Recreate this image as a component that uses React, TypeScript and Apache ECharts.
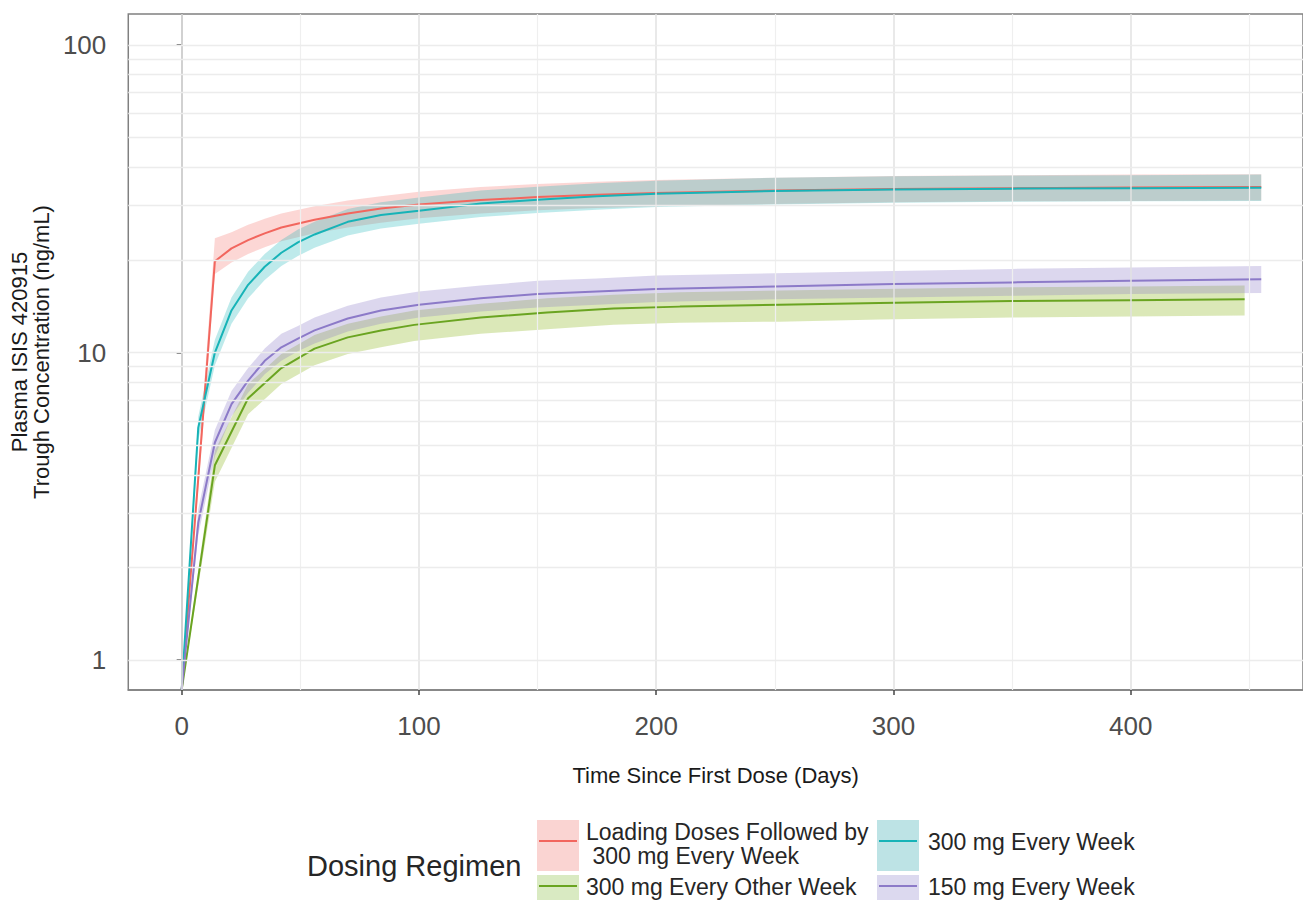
import React, { useEffect, useRef } from "react";
import * as echarts from "echarts";

// ---- Data ----
const DAYS_LOADING = [0, 7, 14, 21, 28, 35, 42, 56, 70, 84, 100, 126, 150, 175, 200, 250, 300, 350, 400, 455];
const CONC_LOADING = [0.8, 3.9, 19.8, 21.8, 23.2, 24.4, 25.5, 27.0, 28.3, 29.4, 30.3, 31.3, 32.0, 32.6, 33.0, 33.6, 34.0, 34.2, 34.4, 34.5];
const LO_LOADING = [0.8, 3.6, 18.0, 19.6, 20.9, 22.0, 23.0, 24.4, 25.5, 26.4, 27.3, 28.3, 29.0, 29.5, 29.9, 30.4, 30.8, 31.0, 31.1, 31.2];
const HI_LOADING = [0.8, 4.3, 23.5, 24.6, 26.0, 27.2, 28.3, 29.9, 31.2, 32.2, 33.3, 34.5, 35.3, 35.9, 36.4, 37.0, 37.5, 37.7, 37.9, 38.0];

const DAYS_WEEKLY300 = [0, 7, 14, 21, 28, 35, 42, 49, 56, 70, 84, 100, 126, 150, 175, 200, 250, 300, 350, 400, 455];
const CONC_WEEKLY300 = [0.8, 5.7, 10.0, 13.7, 16.6, 19.0, 21.1, 22.8, 24.2, 26.6, 28.0, 28.9, 30.5, 31.4, 32.2, 32.8, 33.5, 33.9, 34.1, 34.2, 34.3];
const LO_WEEKLY300 = [0.8, 5.2, 9.1, 12.4, 15.0, 17.2, 19.1, 20.6, 21.9, 24.0, 25.3, 26.2, 27.6, 28.4, 29.1, 29.7, 30.3, 30.7, 30.9, 31.0, 31.1];
const HI_WEEKLY300 = [0.8, 6.2, 11.0, 15.1, 18.3, 20.9, 23.2, 25.1, 26.6, 29.3, 30.8, 31.9, 33.6, 34.6, 35.5, 36.2, 37.0, 37.4, 37.6, 37.7, 37.9];

const DAYS_BIWEEKLY300 = [0, 14, 28, 42, 56, 70, 84, 98, 126, 154, 182, 210, 252, 294, 350, 400, 448];
const CONC_BIWEEKLY300 = [0.8, 4.3, 7.1, 8.9, 10.3, 11.2, 11.8, 12.3, 13.0, 13.5, 13.9, 14.1, 14.3, 14.5, 14.7, 14.8, 14.9];
const LO_BIWEEKLY300 = [0.8, 3.8, 6.3, 7.9, 9.1, 9.9, 10.4, 10.9, 11.5, 11.9, 12.3, 12.5, 12.6, 12.8, 13.0, 13.1, 13.2];
const HI_BIWEEKLY300 = [0.8, 4.8, 7.9, 9.9, 11.4, 12.4, 13.1, 13.7, 14.4, 15.0, 15.4, 15.7, 15.9, 16.1, 16.3, 16.4, 16.5];

const DAYS_WEEKLY150 = [0, 7, 14, 21, 28, 35, 42, 49, 56, 70, 84, 100, 126, 150, 175, 200, 250, 300, 350, 400, 455];
const CONC_WEEKLY150 = [0.8, 2.8, 5.1, 6.8, 8.1, 9.4, 10.4, 11.1, 11.8, 12.9, 13.7, 14.3, 15.0, 15.5, 15.8, 16.1, 16.4, 16.7, 16.9, 17.1, 17.3];
const LO_WEEKLY150 = [0.8, 2.55, 4.6, 6.2, 7.4, 8.5, 9.4, 10.1, 10.7, 11.7, 12.4, 13.0, 13.6, 14.0, 14.3, 14.6, 14.9, 15.1, 15.3, 15.5, 15.6];
const HI_WEEKLY150 = [0.8, 3.1, 5.6, 7.5, 8.9, 10.3, 11.5, 12.2, 13.0, 14.2, 15.1, 15.8, 16.5, 17.1, 17.4, 17.8, 18.1, 18.4, 18.7, 18.9, 19.1];

const X_TICKS = [0, 100, 200, 300, 400];
const X_GRID_MAJOR = [0, 100, 200, 300, 400];
const X_GRID_MINOR = [50, 150, 250, 350, 450];
const Y_GRID = [1, 2, 3, 4, 5, 6, 7, 8, 9, 10, 20, 30, 40, 50, 60, 70, 80, 90, 100];

const LEGEND_TITLE = "Dosing Regimen";
const LABEL_LOADING = ["Loading Doses Followed by", " 300 mg Every Week"];
const LABEL_WEEKLY300 = "300 mg Every Week";
const LABEL_BIWEEKLY300 = "300 mg Every Other Week";
const LABEL_WEEKLY150 = "150 mg Every Week";

const COL_RED = "#f2665e";
const COL_TEAL = "#17b3b7";
const COL_GREEN = "#6aa421";
const COL_PURPLE = "#8c7ac8";

const FONT = "'Liberation Sans', Arial, Helvetica, sans-serif";

function bandSeries(name: string, days: number[], lo: number[], hi: number[], fill: string) {
  return {
    type: "custom",
    name,
    z: 2,
    silent: true,
    clip: true,
    data: days.map((d, i) => [d, lo[i], hi[i]]),
    encode: { x: 0, y: [1, 2] },
    renderItem: (params: any, api: any) => {
      if (params.dataIndex !== 0) return null;
      const top = days.map((d, i) => api.coord([d, hi[i]]));
      const bottom = days.map((d, i) => api.coord([d, lo[i]])).reverse();
      return {
        type: "polygon",
        shape: { points: top.concat(bottom) },
        style: { fill, stroke: null },
      };
    },
  };
}

function lineSeries(name: string, days: number[], conc: number[], color: string) {
  return {
    type: "line",
    name,
    z: 4,
    silent: true,
    showSymbol: false,
    symbol: "none",
    clip: true,
    data: days.map((d, i) => [d, conc[i]]),
    lineStyle: { color, width: 2 },
    itemStyle: { color },
  };
}

export default function App() {
  const ref = useRef<HTMLDivElement>(null);

  useEffect(() => {
    if (!ref.current) return;
    const chart = echarts.init(ref.current, null, { renderer: "svg" });

    const gridMarks = [
      ...X_GRID_MINOR.map((v) => ({ xAxis: v, lineStyle: { color: "#efefef", width: 1.2, type: "solid" } })),
      ...X_GRID_MAJOR.map((v) => ({ xAxis: v, lineStyle: { color: "#e2e2e2", width: 1.5, type: "solid" } })),
      ...Y_GRID.map((v) => ({ yAxis: v, lineStyle: { color: "#ececec", width: 1.3, type: "solid" } })),
    ];

    const legendKeys = [
      { x: 537, y: 820, h: 51, ly: 841, fill: "#fad4d2", line: COL_RED },
      { x: 537, y: 875, h: 30, ly: 886, fill: "#d9eac2", line: COL_GREEN },
      { x: 877, y: 820, h: 51, ly: 841, fill: "#bde3e5", line: COL_TEAL },
      { x: 877, y: 875, h: 30, ly: 886, fill: "#dcd9ef", line: COL_PURPLE },
    ];

    const graphic: any[] = [];
    legendKeys.forEach((k) => {
      graphic.push({ type: "rect", left: k.x, top: k.y, shape: { width: 42, height: k.h }, style: { fill: k.fill }, silent: true });
      graphic.push({ type: "line", shape: { x1: k.x + 2, y1: k.ly, x2: k.x + 40, y2: k.ly }, style: { stroke: k.line, lineWidth: 2 }, silent: true });
    });
    const legendText = (text: string, x: number, yc: number, size = 23) => ({
      type: "text",
      x,
      y: yc,
      style: { text, fill: "#262626", font: `${size}px ${FONT}`, textVerticalAlign: "middle", verticalAlign: "middle", align: "left" },
      silent: true,
    });
    graphic.push(legendText(LEGEND_TITLE, 307, 866, 29));
    graphic.push(legendText(LABEL_LOADING[0], 586, 832));
    graphic.push(legendText(LABEL_LOADING[1], 586, 856));
    graphic.push(legendText(LABEL_BIWEEKLY300, 586, 887));
    graphic.push(legendText(LABEL_WEEKLY300, 928, 842));
    graphic.push(legendText(LABEL_WEEKLY150, 928, 887));

    chart.setOption({
      animation: false,
      backgroundColor: "#ffffff",
      textStyle: { fontFamily: FONT },
      grid: {
        left: 127,
        right: -3,
        top: 14,
        bottom: 210,
        show: true,
        borderColor: "#808080",
        borderWidth: 1.5,
        backgroundColor: "transparent",
      },
      xAxis: {
        type: "value",
        min: -22.5,
        max: 472.6,
        name: "Time Since First Dose (Days)",
        nameLocation: "middle",
        nameGap: 74,
        nameTextStyle: { fontSize: 22, color: "#1a1a1a", fontFamily: FONT },
        axisLine: { show: true, lineStyle: { color: "#808080", width: 1.5 } },
        axisTick: { show: true, length: 5, customValues: X_TICKS, lineStyle: { color: "#444", width: 1.5 } },
        axisLabel: { customValues: X_TICKS, fontSize: 26, color: "#4d4d4d", margin: 23, fontFamily: FONT },
        splitLine: { show: false },
      },
      yAxis: {
        type: "log",
        logBase: 10,
        min: 0.8,
        max: 126,
        name: "Plasma ISIS 420915\nTrough Concentration (ng/mL)",
        nameLocation: "middle",
        nameRotate: 90,
        nameGap: 74,
        nameTextStyle: { fontSize: 22, lineHeight: 22, color: "#1a1a1a", fontFamily: FONT, align: "center" },
        axisLine: { show: true, lineStyle: { color: "#808080", width: 1.5 } },
        axisTick: { show: true, length: 5, lineStyle: { color: "#444", width: 1.5 } },
        axisLabel: { showMinLabel: false, showMaxLabel: false, fontSize: 26, color: "#4d4d4d", margin: 22, fontFamily: FONT },
        splitLine: { show: false },
        minorSplitLine: { show: false },
      },
      graphic,
      series: [
        {
          type: "line",
          name: "grid",
          z: 1,
          silent: true,
          data: [],
          symbol: "none",
          markLine: {
            silent: true,
            symbol: "none",
            label: { show: false },
            animation: false,
            data: gridMarks,
          },
        },
        bandSeries("band-loading", DAYS_LOADING, LO_LOADING, HI_LOADING, "rgba(242,102,94,0.26)"),
        bandSeries("band-w300", DAYS_WEEKLY300, LO_WEEKLY300, HI_WEEKLY300, "rgba(23,179,183,0.28)"),
        bandSeries("band-bw300", DAYS_BIWEEKLY300, LO_BIWEEKLY300, HI_BIWEEKLY300, "rgba(124,174,0,0.28)"),
        bandSeries("band-w150", DAYS_WEEKLY150, LO_WEEKLY150, HI_WEEKLY150, "rgba(140,122,200,0.30)"),
        lineSeries(LABEL_LOADING.join(""), DAYS_LOADING, CONC_LOADING, COL_RED),
        lineSeries(LABEL_WEEKLY300, DAYS_WEEKLY300, CONC_WEEKLY300, COL_TEAL),
        lineSeries(LABEL_BIWEEKLY300, DAYS_BIWEEKLY300, CONC_BIWEEKLY300, COL_GREEN),
        lineSeries(LABEL_WEEKLY150, DAYS_WEEKLY150, CONC_WEEKLY150, COL_PURPLE),
      ],
    });

    return () => chart.dispose();
  }, []);

  return (
    <div
      ref={ref}
      style={{ position: "absolute", left: 0, top: 0, width: 1303, height: 900, background: "#fff" }}
    />
  );
}
